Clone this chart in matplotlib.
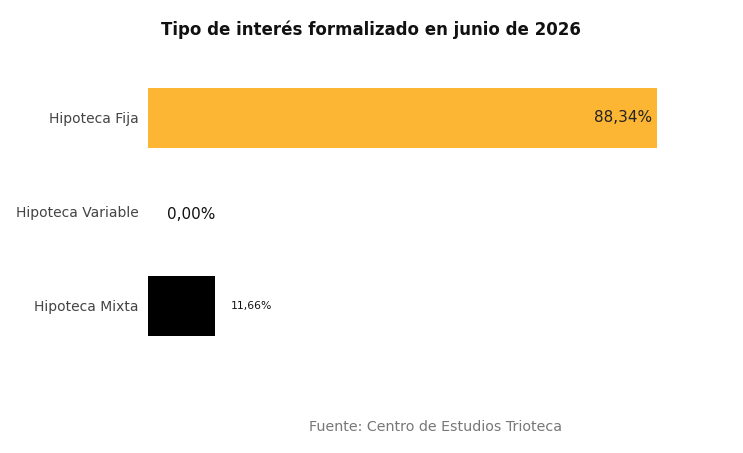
import matplotlib
matplotlib.use("Agg")
import matplotlib.pyplot as plt

categories = ["Hipoteca Fija", "Hipoteca Variable", "Hipoteca Mixta"]
values = [88.34, 0.00, 11.66]
labels = ["88,34%", "0,00%", "11,66%"]
colors = ["#FDB633", "#FDB633", "#000000"]

fig = plt.figure(figsize=(7.43, 4.53), dpi=100)
ax = fig.add_axes([148 / 743, 1 - 353 / 453, 576 / 743, 282 / 453])

ypos = list(range(len(categories)))
ax.barh(ypos, values, height=0.64, color=colors)
ax.set_xlim(0, 100)
ax.set_ylim(2.5, -0.5)
ax.set_yticks(ypos)
ax.set_yticklabels(categories, fontsize=10, color="#444444")
ax.tick_params(axis="y", length=0, pad=7)
ax.set_xticks([])
for s in ax.spines.values():
    s.set_visible(False)

# etiquetas de valor
ax.text(values[0] - 0.8, 0, labels[0], ha="right", va="center", fontsize=11, color="#222222")
ax.text(3.3, 1.03, labels[1], ha="left", va="center", fontsize=11, color="#111111")
ax.text(values[2] + 2.7, 2, labels[2], ha="left", va="center", fontsize=7.8, color="#111111")

fig.text(371 / 743, 1 - 30 / 453, "Tipo de interés formalizado en junio de 2026",
         ha="center", va="center", fontsize=12, fontweight="bold", color="#111111")
fig.text(436 / 743, 1 - 427 / 453, "Fuente: Centro de Estudios Trioteca",
         ha="center", va="center", fontsize=10.3, color="#777777")

fig.savefig("out.png", dpi=100)
